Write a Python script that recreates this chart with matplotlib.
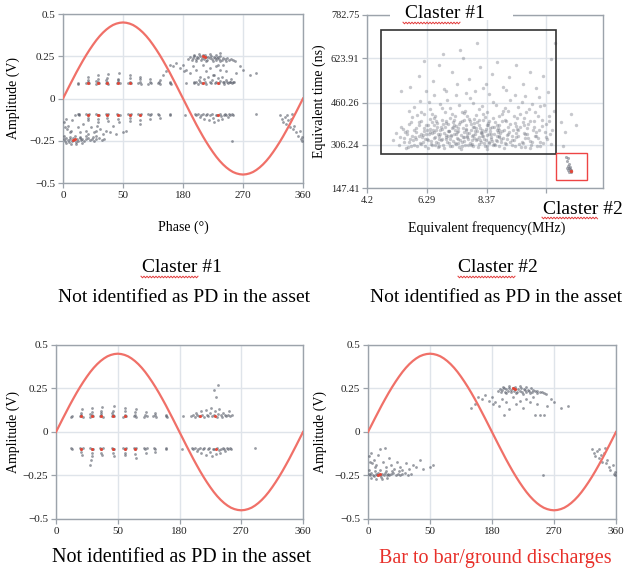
import numpy as np
import matplotlib
matplotlib.use("Agg")
import matplotlib.pyplot as plt
from matplotlib.lines import Line2D
from matplotlib.patches import Rectangle

plt.rcParams.update({
    "font.family": ["Liberation Serif", "DejaVu Serif"],
    "axes.unicode_minus": True,
})

W, H = 627, 572

# ---- reference wave (amplitude, V) every 5 degrees ----
wave_phase = list(range(0, 361, 5))
wave_amp = [0.000, 0.039, 0.078, 0.116, 0.154, 0.190, 0.225, 0.258, 0.289, 0.318,
            0.345, 0.369, 0.390, 0.408, 0.423, 0.435, 0.443, 0.448, 0.450, 0.448,
            0.443, 0.435, 0.423, 0.408, 0.390, 0.369, 0.345, 0.318, 0.289, 0.258,
            0.225, 0.190, 0.154, 0.116, 0.078, 0.039, 0.000, -0.039, -0.078, -0.116,
            -0.154, -0.190, -0.225, -0.258, -0.289, -0.318, -0.345, -0.369, -0.390, -0.408,
            -0.423, -0.435, -0.443, -0.448, -0.450, -0.448, -0.443, -0.435, -0.423, -0.408,
            -0.390, -0.369, -0.345, -0.318, -0.289, -0.258, -0.225, -0.190, -0.154, -0.116,
            -0.078, -0.039, 0.000]

phase_ticks = [0, 90, 180, 270, 360]
phase_labels = ["0", "50", "180", "270", "360"]
amp_ticks = [-0.5, -0.25, 0, 0.25, 0.5]
amp_labels = ["\u22120.5", "\u22120.25", "0", "0.25", "0.5"]

# ---- cluster #1 : stripes around +/-0.1 V (phase, amplitude) ----
stripe_pos = [
    (22, 0.088), (23, 0.092), (35, 0.09), (37, 0.095), (37, 0.11), (38, 0.13), (39, 0.089),
    (50, 0.088), (52, 0.097), (52, 0.115), (53, 0.14), (54, 0.09), (49, 0.105),
    (64, 0.09), (66, 0.1), (66, 0.12), (67, 0.145), (68, 0.088), (65, 0.108),
    (81, 0.09), (83, 0.098), (83, 0.118), (84, 0.15), (85, 0.092), (82, 0.107),
    (98, 0.089), (100, 0.1), (100, 0.122), (101, 0.138), (102, 0.09),
    (113, 0.09), (115, 0.098), (115, 0.115), (116, 0.13), (117, 0.088),
    (128, 0.088), (130, 0.1), (131, 0.117), (132, 0.09),
    (142, 0.09), (144, 0.097), (145, 0.112), (146, 0.088),
    (160, 0.09), (161, 0.1), (162, 0.088), (185, 0.092),
    (197, 0.09), (199, 0.1), (202, 0.088), (204, 0.112), (206, 0.095), (209, 0.09),
    (211, 0.118), (213, 0.1), (215, 0.088), (218, 0.125), (220, 0.097), (222, 0.09),
    (224, 0.108), (226, 0.14), (228, 0.092), (230, 0.1), (232, 0.12), (234, 0.089),
    (236, 0.105), (238, 0.13), (240, 0.095), (242, 0.088), (244, 0.11), (246, 0.1),
    (248, 0.09), (250, 0.098), (252, 0.118), (254, 0.09), (256, 0.096),
    (231, 0.24), (236, 0.27), (233, 0.2),
]
stripe_neg = [
    (22, -0.09), (24, -0.095), (35, -0.09), (37, -0.1), (37, -0.115), (38, -0.13), (39, -0.092),
    (50, -0.09), (52, -0.1), (52, -0.12), (53, -0.14), (51, -0.16), (50, -0.19), (54, -0.095),
    (64, -0.09), (66, -0.1), (66, -0.118), (67, -0.135), (68, -0.092),
    (81, -0.09), (83, -0.1), (83, -0.12), (84, -0.14), (85, -0.095),
    (98, -0.09), (100, -0.1), (100, -0.118), (101, -0.135), (102, -0.092),
    (113, -0.09), (115, -0.1), (115, -0.125), (116, -0.15), (117, -0.093),
    (128, -0.09), (130, -0.1), (131, -0.12), (132, -0.092),
    (143, -0.09), (144, -0.1), (145, -0.115), (160, -0.092), (161, -0.1), (183, -0.095),
    (198, -0.09), (200, -0.1), (203, -0.092), (205, -0.11), (207, -0.095), (210, -0.09),
    (212, -0.12), (214, -0.1), (216, -0.093), (219, -0.13), (221, -0.1), (223, -0.09),
    (225, -0.115), (227, -0.14), (229, -0.095), (231, -0.1), (233, -0.125), (235, -0.09),
    (237, -0.105), (239, -0.12), (241, -0.095), (243, -0.09), (245, -0.1), (247, -0.11),
    (249, -0.09), (251, -0.1), (253, -0.092), (255, -0.1), (290, -0.09),
]
stripe_hot = [
    (37, 0.09), (52, 0.09), (66, 0.092), (83, 0.09), (100, 0.092), (210, 0.09), (232, 0.092),
    (37, -0.095), (52, -0.095), (66, -0.1), (83, -0.1), (100, -0.098), (115, -0.1), (233, -0.1),
]

# ---- cluster #2 : bar to bar / ground discharges ----
bar_pos = [
    (188, 0.235), (191, 0.245), (193, 0.228), (195, 0.24), (197, 0.25), (199, 0.232),
    (201, 0.245), (203, 0.238), (205, 0.252), (207, 0.228), (208, 0.242), (210, 0.255),
    (212, 0.235), (214, 0.248), (216, 0.23), (218, 0.245), (220, 0.238), (222, 0.25),
    (224, 0.232), (226, 0.246), (228, 0.24), (230, 0.228), (232, 0.244), (234, 0.236),
    (236, 0.25), (238, 0.23), (240, 0.242), (243, 0.235), (246, 0.238), (249, 0.228),
    (252, 0.232), (255, 0.225), (258, 0.22), (200, 0.222), (215, 0.222), (225, 0.22),
    (235, 0.222), (245, 0.222), (196, 0.258), (204, 0.262), (213, 0.258), (221, 0.262),
    (229, 0.256),
    (160, 0.2), (165, 0.19), (170, 0.21), (175, 0.18), (180, 0.2), (185, 0.17), (150, 0.14),
    (155, 0.16), (190, 0.15), (195, 0.19), (200, 0.17), (205, 0.13), (210, 0.2), (215, 0.16),
    (220, 0.18), (225, 0.14), (230, 0.19), (235, 0.17), (240, 0.2), (245, 0.16), (250, 0.1),
    (255, 0.1), (260, 0.15), (265, 0.19), (270, 0.17), (280, 0.14), (290, 0.15), (197, 0.1),
    (182, 0.16), (242, 0.1),
]
bar_neg = [
    (1, -0.24), (3, -0.25), (5, -0.235), (7, -0.245), (9, -0.255), (11, -0.24), (13, -0.25),
    (15, -0.235), (17, -0.245), (19, -0.26), (21, -0.24), (23, -0.25), (25, -0.235),
    (27, -0.245), (29, -0.24), (31, -0.25), (34, -0.24), (37, -0.235), (40, -0.245),
    (43, -0.24), (46, -0.25), (50, -0.24), (54, -0.235), (58, -0.245), (4, -0.265),
    (12, -0.268), (20, -0.27), (28, -0.262), (2, -0.22), (10, -0.225), (18, -0.22),
    (26, -0.225), (35, -0.222), (45, -0.225), (62, -0.24),
    (2, -0.14), (4, -0.12), (6, -0.18), (8, -0.16), (10, -0.2), (14, -0.13), (18, -0.1),
    (22, -0.17), (26, -0.2), (30, -0.15), (34, -0.19), (38, -0.21), (42, -0.17), (46, -0.2),
    (50, -0.22), (55, -0.18), (60, -0.21), (65, -0.19), (70, -0.2), (75, -0.16), (80, -0.21),
    (90, -0.2), (95, -0.19), (24, -0.09), (3, -0.17), (12, -0.19), (254, -0.25),
    (325, -0.1), (328, -0.12), (330, -0.14), (333, -0.11), (335, -0.15), (338, -0.13),
    (340, -0.17), (342, -0.12), (345, -0.18), (347, -0.16), (350, -0.2), (352, -0.22),
    (355, -0.19), (357, -0.24), (359, -0.23), (358, -0.25), (336, -0.1), (344, -0.09),
]
bar_hot = [(15, -0.245), (18, -0.24), (210, 0.25), (213, 0.248)]

# ---- clustering map: equivalent frequency (MHz) vs equivalent time (ns) ----
cloud = [
    (6.05, 312), (6.12, 335), (6.18, 356), (6.22, 301), (6.27, 378), (6.31, 322), (6.36, 344),
    (6.40, 365), (6.44, 309), (6.48, 390), (6.52, 331), (6.55, 352), (6.60, 318), (6.63, 372),
    (6.67, 298), (6.71, 340), (6.74, 361), (6.78, 325), (6.81, 396), (6.85, 307), (6.88, 348),
    (6.92, 370), (6.95, 333), (6.99, 315), (7.02, 384), (7.05, 355), (7.09, 302), (7.12, 338),
    (7.15, 366), (7.19, 321), (7.22, 398), (7.25, 345), (7.29, 310), (7.32, 376), (7.35, 330),
    (7.39, 358), (7.42, 299), (7.45, 388), (7.49, 342), (7.52, 318), (7.55, 367), (7.59, 335),
    (7.62, 305), (7.65, 380), (7.69, 350), (7.72, 326), (7.75, 402), (7.79, 314), (7.82, 361),
    (7.85, 338), (7.89, 300), (7.92, 373), (7.95, 346), (7.99, 322), (8.02, 390), (8.05, 357),
    (8.09, 309), (8.12, 336), (8.15, 369), (8.19, 318), (8.22, 349), (8.25, 398), (8.29, 328),
    (8.32, 303), (8.35, 365), (8.39, 341), (8.42, 380), (8.45, 312), (8.49, 355), (8.52, 333),
    (8.55, 371), (8.59, 306), (8.62, 346), (8.65, 388), (8.69, 324), (8.72, 360), (8.75, 338),
    (8.79, 301), (8.82, 377), (8.85, 350), (8.89, 315), (8.92, 392), (8.95, 331), (8.99, 362),
    (5.10, 322), (5.22, 348), (5.31, 305), (5.40, 372), (5.48, 330), (5.55, 295), (5.60, 358),
    (5.66, 318), (5.72, 390), (5.78, 340), (5.84, 306), (5.90, 368), (5.96, 415), (9.05, 310),
    (9.12, 345), (9.18, 382), (9.24, 325), (9.30, 360), (9.36, 300), (9.42, 405), (9.48, 338),
    (9.55, 372), (9.61, 316), (9.68, 350), (9.74, 428), (9.80, 330), (9.87, 392), (9.93, 306),
    (10.00, 362), (10.08, 340), (10.15, 410), (10.22, 318), (10.30, 375), (10.38, 452),
    (10.45, 335), (10.55, 395), (10.65, 360), (10.72, 430),
    (5.85, 445), (6.10, 425), (6.35, 462), (6.58, 410), (6.80, 440), (7.00, 470), (7.18, 420),
    (7.40, 452), (7.62, 432), (7.80, 478), (8.00, 415), (8.20, 448), (8.40, 425), (8.60, 465),
    (8.80, 412), (9.00, 440), (9.20, 470), (9.45, 445), (9.70, 485), (9.95, 455), (10.20, 480),
    (6.45, 418), (7.08, 405), (7.70, 412), (8.30, 408), (8.90, 420), (9.55, 418),
    (5.70, 520), (6.00, 560), (6.25, 505), (6.50, 540), (6.70, 600), (6.90, 512), (7.15, 575),
    (7.35, 530), (7.55, 625), (7.75, 548), (7.95, 505), (8.15, 590), (8.35, 530), (8.55, 565),
    (8.75, 610), (8.95, 520), (9.15, 555), (9.40, 600), (9.65, 530), (9.90, 575), (10.10, 515),
    (10.35, 560), (10.60, 620), (6.85, 640), (7.45, 655), (8.05, 680), (10.75, 680), (5.40, 505),
    (6.20, 615), (10.95, 390), (11.10, 352), (11.30, 420), (11.05, 300), (11.50, 380),
]
cloud_core = [
    (5.62, 297), (5.95, 302), (6.33, 293), (6.58, 306), (6.90, 295), (7.17, 303), (7.48, 291),
    (7.73, 305), (8.06, 298), (8.38, 292), (8.67, 304), (8.97, 296), (9.27, 307), (9.58, 299),
    (9.90, 294), (10.25, 301), (5.50, 316), (5.80, 323), (6.08, 309), (6.42, 319), (6.69, 311),
    (6.97, 326), (7.27, 314), (7.57, 320), (7.86, 309), (8.14, 324), (8.44, 316), (8.74, 321),
    (9.02, 313), (9.33, 322), (9.64, 311), (9.96, 318), (10.35, 314), (5.35, 334), (5.70, 328),
    (6.02, 338), (6.29, 327), (6.57, 335), (6.83, 329), (7.13, 341), (7.38, 326), (7.67, 336),
    (7.94, 331), (8.21, 340), (8.51, 329), (8.80, 337), (9.09, 326), (9.40, 334), (9.72, 330),
    (10.05, 339), (10.48, 327), (5.58, 346), (5.90, 353), (6.15, 343), (6.46, 351), (6.76, 344),
    (7.03, 356), (7.31, 345), (7.60, 352), (7.88, 343), (8.17, 350), (8.47, 345), (8.77, 354),
    (9.07, 343), (9.39, 350), (9.70, 345), (10.10, 353), (10.58, 344), (5.45, 365), (5.83, 359),
    (6.20, 369), (6.50, 361), (6.79, 372), (7.06, 358), (7.36, 367), (7.64, 361), (7.91, 371),
    (8.20, 362), (8.50, 368), (8.80, 359), (9.10, 371), (9.44, 363), (9.78, 369), (10.20, 360),
    (5.65, 383), (6.00, 391), (6.32, 379), (6.62, 395), (6.95, 386), (7.24, 378), (7.52, 393),
    (7.83, 382), (8.12, 397), (8.41, 387), (8.72, 380), (9.03, 394), (9.35, 385), (9.66, 379),
    (10.02, 392), (10.45, 383), (5.78, 408), (6.18, 421), (6.55, 403), (6.92, 427), (7.27, 411),
    (7.58, 424), (7.92, 401), (8.26, 418), (8.61, 406), (8.96, 429), (9.32, 412), (9.68, 404),
    (10.05, 425), (10.55, 410),
]
cloud_dense = [
    (5.52, 352), (5.74, 301), (5.88, 333), (6.03, 379), (6.14, 318), (6.26, 347), (6.38, 399),
    (6.47, 305), (6.61, 361), (6.72, 328), (6.84, 384), (6.96, 341), (7.07, 311), (7.21, 372),
    (7.33, 353), (7.44, 322), (7.57, 398), (7.68, 339), (7.81, 306), (7.93, 386), (8.04, 329),
    (8.16, 352), (8.28, 313), (8.37, 377), (8.53, 344), (8.64, 309), (8.78, 366), (8.87, 327),
    (9.01, 397), (9.14, 354), (9.26, 337), (9.38, 376), (9.51, 308), (9.63, 388), (9.77, 347),
    (9.89, 321), (10.03, 373), (10.16, 332), (10.29, 396), (10.42, 352), (10.61, 310),
    (6.07, 346), (6.23, 329), (6.39, 353), (6.53, 377), (6.66, 345), (6.82, 363), (6.97, 392),
    (7.11, 326), (7.26, 359), (7.41, 381), (7.54, 334), (7.66, 363), (7.78, 392), (7.97, 357),
    (8.10, 378), (8.24, 337), (8.36, 323), (8.47, 395), (8.63, 370), (8.79, 336), (8.91, 358),
    (7.01, 339), (7.37, 311), (7.77, 349), (8.01, 369), (8.33, 356), (6.64, 386), (6.30, 361),
    (7.20, 389), (7.85, 323), (8.56, 319), (9.20, 318), (9.47, 359), (9.83, 381), (10.12, 301),
    (5.90, 329), (6.10, 392), (6.70, 300), (7.50, 303), (8.40, 300), (9.70, 299),
    (5.65, 432), (6.05, 466), (6.40, 438), (6.75, 455), (7.10, 441), (7.30, 489), (7.50, 428),
    (7.90, 461), (8.10, 436), (8.45, 492), (8.70, 451), (9.10, 431), (9.35, 488), (9.60, 462),
    (9.85, 436), (10.25, 447), (10.50, 500), (6.95, 505), (8.25, 515), (7.65, 498), (6.55, 490),
    (9.05, 508),
]
cluster2 = [
    (11.15, 262), (11.22, 258), (11.18, 248), (11.25, 236), (11.20, 228), (11.24, 222),
    (11.28, 218), (11.22, 214), (11.30, 212), (11.26, 208), (11.32, 205), (11.19, 220),
    (11.27, 226),
]
cluster2_hot = [(11.30, 210)]

freq_ticks = [4.2, 6.29, 8.37, 10.45]
freq_labels = ["4.2", "6.29", "8.37", ""]
time_ticks = [147.41, 306.24, 460.26, 623.91, 782.75]
box1 = (4.69, 272.0, 10.79, 727.6)   # x0, y0, x1, y1
box2 = (10.79, 177.0, 11.87, 276.0)

GRAY = "#555a66"
CLOUD = "#737782"
GRID = "#dfe4ea"
SPINE = "#9ca3ab"
WAVE = "#f07068"


def px_axes(l, t, r, b):
    return fig.add_axes([l / W, 1 - b / H, (r - l) / W, (b - t) / H])


def style(ax, fs=8):
    for s in ax.spines.values():
        s.set_color(SPINE)
        s.set_linewidth(1.0)
    ax.grid(True, color=GRID, lw=1.0)
    ax.set_axisbelow(True)
    ax.tick_params(direction="out", length=3.5, width=0.9, color=SPINE,
                   labelsize=fs, labelcolor="#222222", pad=2)


def pts(ax, data, color, s=4, alpha=0.6, z=3):
    a = np.array(data, dtype=float)
    ax.scatter(a[:, 0], a[:, 1], s=s, c=color, alpha=alpha, lw=0, zorder=z)


def prpd(ax, sets, hots):
    style(ax)
    ax.plot(wave_phase, wave_amp, color=WAVE, lw=1.6, zorder=4)
    for d in sets:
        pts(ax, d, GRAY)
    for d in hots:
        pts(ax, d, "#e8402f", s=5, alpha=0.9, z=5)
    ax.set_xlim(0, 360)
    ax.set_ylim(-0.5, 0.5)
    ax.set_xticks(phase_ticks, phase_labels)
    ax.set_yticks(amp_ticks, amp_labels)


def ftext(x, y, s, **kw):
    fig.text(x / W, 1 - y / H, s, ha="center", va="center", **kw)


def squiggle(x0, x1, y):
    xs = np.arange(x0, x1 + 0.1, 1.5)
    ys = y + np.where(np.arange(len(xs)) % 2 == 0, -0.8, 0.8)
    fig.add_artist(Line2D(xs / W, 1 - ys / H, color="#e23b3b", lw=0.7,
                          transform=fig.transFigure))


fig = plt.figure(figsize=(W / 100, H / 100), dpi=100)

# top left: both clusters together
ax1 = px_axes(63, 14, 303, 183)
prpd(ax1, [stripe_pos, stripe_neg, bar_pos, bar_neg], [stripe_hot, bar_hot])
ftext(13, 98, "Amplitude (V)", rotation=90, fontsize=10)
ftext(183, 227, "Phase (\u00b0)", fontsize=10)

# top right: clustering map
ax2 = px_axes(367, 15, 603, 188)
style(ax2, fs=7.5)
for d in (cloud, cloud_core, cloud_dense):
    pts(ax2, d, CLOUD, s=6, alpha=0.4)
pts(ax2, cluster2, CLOUD, s=5, alpha=0.6)
pts(ax2, cluster2_hot, "#e8402f", s=6, alpha=0.9, z=5)
ax2.add_patch(Rectangle((box1[0], box1[1]), box1[2] - box1[0], box1[3] - box1[1],
                        fill=False, ec="#333333", lw=1.2, zorder=6))
ax2.add_patch(Rectangle((box2[0], box2[1]), box2[2] - box2[0], box2[3] - box2[1],
                        fill=False, ec="#ee4444", lw=1.0, zorder=6))
ax2.set_xlim(4.2, 12.43)
ax2.set_ylim(147.41, 782.75)
ax2.set_xticks(freq_ticks, freq_labels)
ax2.set_yticks(time_ticks, [f"{v:.2f}" for v in time_ticks])
ftext(319, 101, "Equivalent time (ns)", rotation=90, fontsize=10)
ftext(487, 228, "Equivalent frequency(MHz)", fontsize=10)

# white gap in the top spine for the title
fig.add_artist(Rectangle((390 / W, 1 - 20 / H), 123 / W, 12 / H, fc="white", ec="none",
                         transform=fig.transFigure, zorder=5))
fig.text(445 / W, 1 - 13 / H, "Claster #1", ha="center", va="center", fontsize=14, zorder=6)
squiggle(403, 461, 23)
ftext(583, 210, "Claster #2", fontsize=14)
squiggle(542, 598, 218)

# middle captions
ftext(182, 267, "Claster #1", fontsize=14)
squiggle(141, 199, 277)
ftext(498, 267, "Claster #2", fontsize=14)
squiggle(458, 515, 277)
ftext(184, 298, "Not identified as PD in the asset", fontsize=14)
ftext(496, 298, "Not identified as PD in the asset", fontsize=14)

# bottom left: cluster #1
ax3 = px_axes(56, 345, 303, 519)
prpd(ax3, [stripe_pos, stripe_neg], [stripe_hot])
ftext(13, 432, "Amplitude (V)", rotation=90, fontsize=10)
ftext(182, 558, "Not identified as PD in the asset", fontsize=14.5)

# bottom right: cluster #2
ax4 = px_axes(368, 345, 616, 519)
prpd(ax4, [bar_pos, bar_neg], [bar_hot])
ftext(320, 432, "Amplitude (V)", rotation=90, fontsize=10)
ftext(495, 558, "Bar to bar/ground discharges", fontsize=14.5, color="#e8302a")

fig.savefig("out.png", dpi=100)
